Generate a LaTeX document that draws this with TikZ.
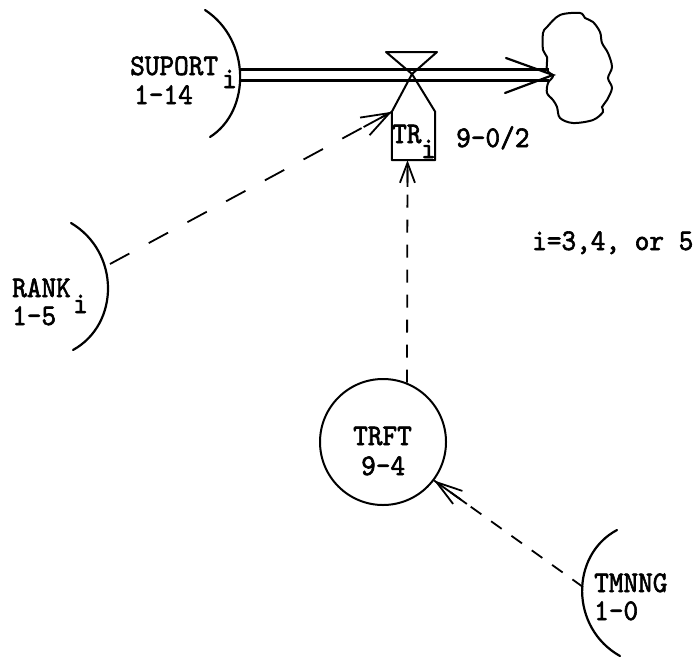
\documentclass[tikz,border=0pt]{standalone}
\usepackage{fontspec}
\usetikzlibrary{arrows.meta,calc}
\newfontfamily\twf{lmmono10-regular}[Extension=.otf, FakeBold=2, FakeStretch=0.93]
\newcommand\twfont{\twf\fontsize{30}{30}\selectfont}
\tikzset{
  lab/.style={anchor=base west, inner sep=0pt, font=\twfont},
  arcline/.style={line width=2.2pt, line cap=round},
  dashconn/.style={line width=1.8pt, dash pattern=on 13pt off 12pt},
  longdash/.style={line width=1.8pt, dash pattern=on 22pt off 22pt},
  valveline/.style={line width=2pt, line join=round}
}
\begin{document}
\begin{tikzpicture}[x=1pt,y=-1pt]
\useasboundingbox (0,0) rectangle (698,656);

% sources (arcs)
\draw[arcline] (205,10) .. controls (251,40) and (251,111) .. (210,137);
\draw[arcline] (71,223) .. controls (120,252) and (120,324) .. (73,350);
\draw[arcline] (617,530) .. controls (570,555) and (570,628) .. (620,656);

% labels
\node[lab] (sup) at (130,75) {SUPORT};
\node[lab] (supi) at (222,88) {i};
\node[lab] (supn) at (134,104) {1-14};
\node[lab] (rank) at (12,297) {RANK};
\node[lab] (ranki) at (73,313) {i};
\node[lab] (rankn) at (12,325) {1-5};
\node[lab] (tmn) at (594,592) {TMNNG};
\node[lab] (tmnn) at (594,620) {1-0};
\node[lab] (note) at (532,250) {i=3,4, or 5};

% cloud (sink)
\node[inner sep=0pt, minimum width=69pt, minimum height=110pt] (cloud) at (577,68) {};
\draw[line width=2pt] plot[smooth cycle, tension=0.55] coordinates {
  (547,27) (560,15) (580,13) (585,18) (593,22) (600,32) (602,43) (608,53)
  (612,67) (608,78) (612,88) (607,100) (602,107) (603,112) (593,120)
  (573,123) (560,118) (557,107) (553,100) (547,93) (548,83) (553,76)
  (547,70) (547,57) (543,50) (543,33)};
\coordinate (sink) at (553,75);
\coordinate (src) at (241,75);

% valve / rate box
\coordinate (apex) at (412,74);
\node[inner sep=0pt, minimum width=43pt, minimum height=48pt] (tr) at (413.5,136) {};
\draw[valveline] (386,52) -- (437,52) -- (apex) -- cycle;
\draw[valveline] (apex) -- (tr.north west) -- (tr.south west) -- (tr.south east) -- (tr.north east) -- cycle;
\node[lab] (trt) at (392,143) {TR};
\node[lab] (tri) at (421,158) {i};
\node[lab] (trn) at (456,147) {9-0/2};

% pipe
\draw[line width=2.2pt] ([yshift=5.5pt]src) -- ([yshift=5.5pt,xshift=-4pt]sink);
\draw[line width=2.2pt] ([yshift=-5.5pt]src) -- ([yshift=-5.5pt,xshift=-4pt]sink);
\draw[line width=2.2pt, line cap=round] ([shift={(-47pt,17pt)}]sink) -- (sink) -- ([shift={(-48pt,-18pt)}]sink);

% TRFT auxiliary
\node[circle, draw, line width=2pt, minimum size=126pt, inner sep=0pt] (trft) at (383,442) {};
\node[lab] (trftt) at (353,445) {TRFT};
\node[lab] (trftn) at (361,475) {9-4};

% information links
\coordinate (rankout) at (110,264);
\coordinate (tmout) at (583,587);
\draw[longdash] (rankout) -- (tr.north west);
\draw[line width=1.8pt, -{Straight Barb[length=28pt,width=20pt]}] ($(rankout)!0.9!(tr.north west)$) -- (tr.north west);
\draw[dashconn] (trft.68) -- ([xshift=-6pt]tr.south);
\draw[line width=1.8pt, -{Straight Barb[length=20pt,width=15pt]}] ($(trft.68)!0.88!([xshift=-6pt]tr.south)$) -- ([xshift=-6pt]tr.south);
\draw[dashconn] (tmout) -- (trft.-37);
\draw[line width=1.8pt, -{Straight Barb[length=26pt,width=16pt]}] ($(tmout)!0.78!(trft.-37)$) -- (trft.-37);
\end{tikzpicture}
\end{document}
